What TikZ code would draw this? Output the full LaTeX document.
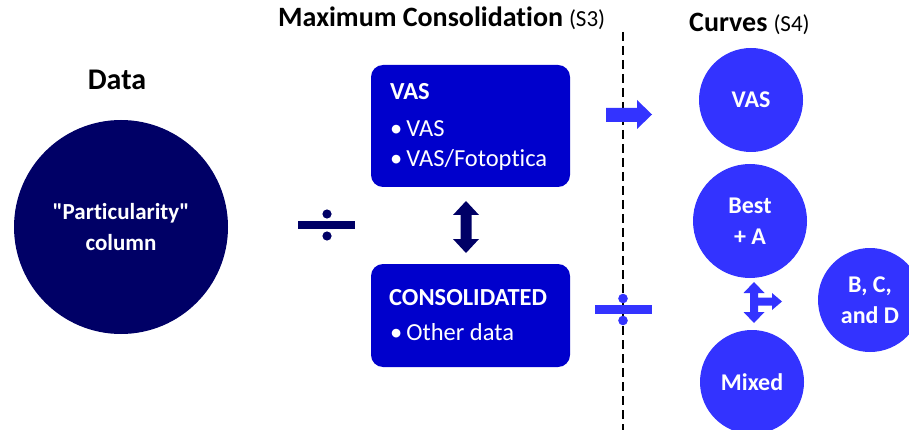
\documentclass[tikz,border=0pt]{standalone}
\usepackage{fontspec}
\setmainfont{Carlito}[Ligatures={TeXOff,NoCommon}]
\definecolor{navy}{HTML}{000066}
\definecolor{boxblue}{HTML}{0000CC}
\definecolor{brightblue}{HTML}{3333FF}
\tikzset{
  title/.style={anchor=base west, inner sep=0pt, font=\bfseries\fontsize{28}{32}\selectfont},
  bigcircle/.style={circle, fill=navy, minimum size=214pt, inner sep=0pt, text=white, align=center, font=\bfseries\fontsize{23}{31}\selectfont},
  curvecircle/.style={circle, fill=brightblue, inner sep=0pt, text=white, align=center, font=\bfseries\fontsize{24}{31}\selectfont},
  groupbox/.style={rectangle, rounded corners=12pt, fill=boxblue, inner sep=0pt},
  boxhead/.style={anchor=base west, inner sep=0pt, text=white, font=\bfseries\fontsize{24.5}{28}\selectfont},
  boxitem/.style={anchor=base west, inner sep=0pt, text=white, font=\fontsize{24.5}{28}\selectfont}
}
\newcommand{\bul}{\textbullet\hspace{4pt}}
\begin{document}
\begin{tikzpicture}[x=1pt,y=-1pt]
\useasboundingbox (0,0) rectangle (909,430);
\clip (0,0) rectangle (909,430);
% titles
\node[title, anchor=base, font=\bfseries\fontsize{30}{34}\selectfont] (tdata) at (117,90) {Data};
\node[title] (tmax) at (278,27) {Maximum Consolidation\hspace{6pt}\fontsize{23}{26}\mdseries\selectfont(S3)};
\node[title] (tcurves) at (689,32) {Curves\hspace{6pt}\fontsize{23}{26}\mdseries\selectfont(S4)};
% data circle
\node[bigcircle] (data) at (121,227) {"Particularity"\\column};
% divide sign dark
\fill[navy] (298,221) rectangle (355,229);
\fill[navy] (327,214) circle (4.6);
\fill[navy] (327,236) circle (4.6);
% boxes
\node[groupbox, minimum width=199pt, minimum height=122pt] (vasbox) at (470.5,126) {};
\node[boxhead] (vash) at (390,100) {VAS};
\node[boxitem] (vas1) at (390,137) {\bul VAS};
\node[boxitem] (vas2) at (390,167) {\bul VAS/Fotoptica};
\node[groupbox, minimum width=199pt, minimum height=103pt] (conbox) at (470.5,315.5) {};
\node[boxhead] (conh) at (389,305) {CONSOLIDATED};
\node[boxitem] (con1) at (390,340) {\bul Other data};
% dark double arrow
\fill[navy] (466,201) -- (479,215) -- (471.5,215) -- (471.5,239) -- (479,239) -- (466,253) -- (453,239) -- (460.5,239) -- (460.5,215) -- (453,215) -- cycle;
% dashed separator
\draw[black, line width=2pt, dash pattern=on 9pt off 5pt] (623,32) -- (623,430);
% VAS arrow
\fill[brightblue] (606,108) -- (637,108) -- (637,100) -- (652,114.5) -- (637,129) -- (637,122) -- (606,122) -- cycle;
% divide sign bright
\fill[brightblue] (595,305) rectangle (652,314);
\fill[brightblue] (623,298.5) circle (4.8);
\fill[brightblue] (623,320.5) circle (4.8);
% curve circles
\node[curvecircle, minimum size=104pt] (cvas) at (751,100) {VAS};
\node[curvecircle, minimum size=114pt] (cbest) at (750,221) {Best\\+ A};
\node[curvecircle, minimum size=104pt] (cmixed) at (752,382) {Mixed};
\node[curvecircle, minimum size=104pt] (cbcd) at (870,300) {B, C,\\and D};
% branch arrow
\fill[brightblue] (754,282) -- (764.5,293) -- (758,293) -- (758,297.5) -- (772,297.5) -- (772,293) -- (782,301.5) -- (772,310) -- (772,305.5) -- (758,305.5) -- (758,312) -- (764.5,312) -- (754,323) -- (743.5,312) -- (750,312) -- (750,293) -- (743.5,293) -- cycle;
\end{tikzpicture}
\end{document}
